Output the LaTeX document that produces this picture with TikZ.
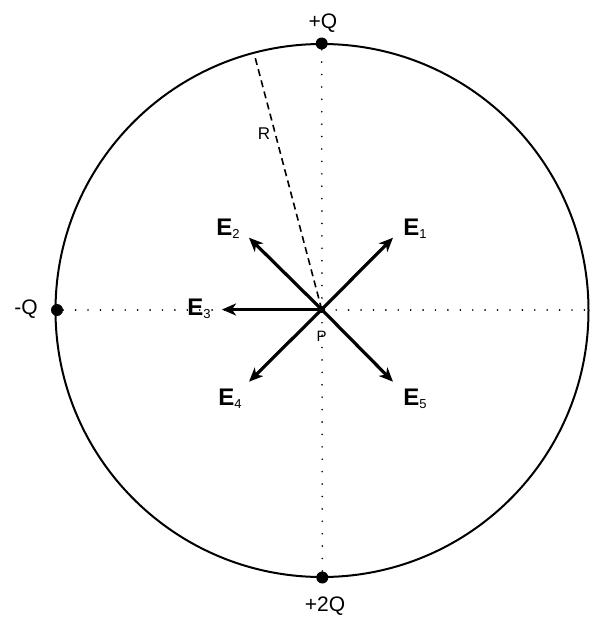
\documentclass[tikz,border=0pt]{standalone}
\usepackage{fontspec}
\setmainfont{Liberation Sans}
\usetikzlibrary{arrows.meta}
\begin{document}
\begin{tikzpicture}[x=1pt,y=-1pt,
  field/.style={line width=3.2pt,-{Stealth[length=14pt,width=12pt,inset=4pt]}},
  charge/.style={circle,fill=black,inner sep=0pt,minimum size=12pt},
  guide/.style={line width=1.8pt,dash pattern=on 0.01pt off 12.4pt,line cap=round},
  elabel/.style={inner sep=0pt,font=\fontsize{24}{24}\selectfont\bfseries},
  sub/.style={},
  qlabel/.style={inner sep=0pt,font=\fontsize{21}{21}\selectfont}]
\useasboundingbox (0,0) rectangle (611,622);
\coordinate (O) at (322,310.5);
\draw[line width=2pt] (O) circle (266.5);
\node[charge] (top) at (321.7,43.5) {};
\node[charge] (bot) at (322.3,577.5) {};
\node[charge] (left) at (57,310) {};
\coordinate (right) at (589,310);
\coordinate (rim) at (255,57);
\node[circle,fill=black,inner sep=0pt,minimum size=7pt] (P) at (321.7,309.5) {};
\draw[guide] (top) -- (bot);
\draw[guide] (left) -- (right);
\draw[line width=1.6pt,dash pattern=on 7pt off 4.5pt] (P.center) -- (rim);
\coordinate (t1) at (393,237.7);
\coordinate (t2) at (249,237.7);
\coordinate (t3) at (222,309.5);
\coordinate (t4) at (249,381.7);
\coordinate (t5) at (393,381.7);
\foreach \t in {t1,t2,t3,t4,t5} \draw[field] (P.center) -- (\t);
\newcommand\esub[1]{E\raisebox{-3pt}{\fontsize{13}{13}\selectfont\mdseries #1}}
\node[elabel] (e1) at (415,229) {\esub{1}};
\node[elabel] (e2) at (228,229) {\esub{2}};
\node[elabel] (e3) at (199,309) {\esub{3}};
\node[elabel] (e4) at (230,399) {\esub{4}};
\node[elabel] (e5) at (415,399) {\esub{5}};
\node[qlabel] (lq) at (323,23) {+Q};
\node[qlabel] (lmq) at (26,309) {-Q};
\node[qlabel] (l2q) at (325,606) {+2Q};
\node[inner sep=0pt,font=\fontsize{15}{15}\selectfont] (lp) at (321.7,336) {P};
\node[inner sep=0pt,font=\fontsize{17}{17}\selectfont] (lr) at (264,134) {R};
\end{tikzpicture}
\end{document}
